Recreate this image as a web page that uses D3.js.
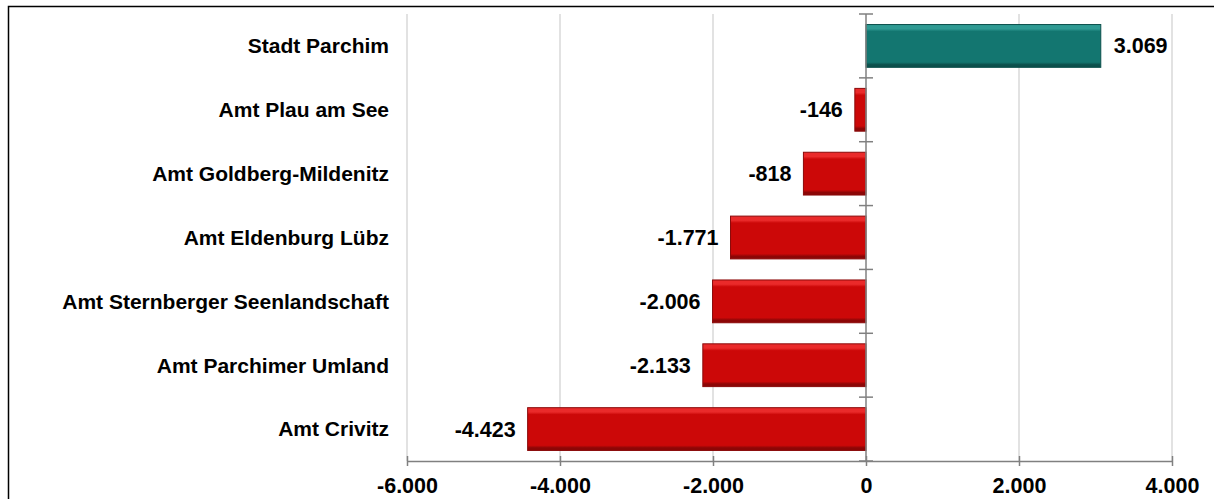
<!DOCTYPE html>
<html>
<head>
<meta charset="utf-8">
<script src="https://cdn.jsdelivr.net/npm/d3@7"></script>
<style>
  body { margin: 0; background: #fff; }
  text { font-family: "Liberation Sans", Arial, sans-serif; font-weight: bold; fill: #000; }
</style>
</head>
<body>
<svg id="chart" width="1214" height="499"></svg>
<script>
const categories = [
  'Stadt Parchim',
  'Amt Plau am See',
  'Amt Goldberg-Mildenitz',
  'Amt Eldenburg Lübz',
  'Amt Sternberger Seenlandschaft',
  'Amt Parchimer Umland',
  'Amt Crivitz'
];
const values = [3069, -146, -818, -1771, -2006, -2133, -4423];
const xTicks = [-6000, -4000, -2000, 0, 2000, 4000];

const fmt = v => d3.format(',')(v).replace(/,/g, '.').replace('−', '-');

const svg = d3.select('#chart');

// outer frame
svg.append('rect')
  .attr('x', 8.5).attr('y', 6.5)
  .attr('width', 1214).attr('height', 499)
  .attr('fill', 'none').attr('stroke', '#000').attr('stroke-width', 1.5);

const x = d3.scaleLinear().domain([-6000, 4000]).range([407, 1172]);
const y = d3.scaleBand().domain(categories).range([14, 461]).paddingInner(0.33).paddingOuter(0.165);

const defs = svg.append('defs');
function gradient(id, light, mid, dark) {
  const g = defs.append('linearGradient').attr('id', id)
    .attr('x1', 0).attr('y1', 0).attr('x2', 0).attr('y2', 1);
  g.append('stop').attr('offset', '0%').attr('stop-color', light);
  g.append('stop').attr('offset', '10%').attr('stop-color', light);
  g.append('stop').attr('offset', '16%').attr('stop-color', mid);
  g.append('stop').attr('offset', '88%').attr('stop-color', mid);
  g.append('stop').attr('offset', '94%').attr('stop-color', dark);
  g.append('stop').attr('offset', '100%').attr('stop-color', dark);
}
gradient('pos', '#2f9a93', '#137670', '#0c504c');
gradient('neg', '#ea2a2a', '#cc0808', '#8c0606');

// gridlines
svg.append('g')
  .selectAll('line')
  .data(xTicks.filter(d => d != 0))
  .enter().append('line')
    .attr('x1', d => x(d)).attr('x2', d => x(d))
    .attr('y1', 14).attr('y2', 461)
    .attr('stroke', '#d9d9d9').attr('stroke-width', 1.5);

// bars
svg.append('g')
  .selectAll('rect')
  .data(values)
  .enter().append('rect')
    .attr('x', d => x(Math.min(0, d)))
    .attr('y', (d, i) => y(categories[i]))
    .attr('width', d => Math.abs(x(d) - x(0)))
    .attr('height', y.bandwidth())
    .attr('fill', d => d >= 0 ? 'url(#pos)' : 'url(#neg)')
    .attr('stroke', d => d >= 0 ? '#0b4f4b' : '#8a0a0a')
    .attr('stroke-width', 1);

// zero axis with category ticks
const zeroAxis = svg.append('g');
zeroAxis.append('line')
  .attr('x1', x(0)).attr('x2', x(0)).attr('y1', 14).attr('y2', 461)
  .attr('stroke', '#808080').attr('stroke-width', 1.5);
zeroAxis.selectAll('.ctick')
  .data(d3.range(categories.length + 1))
  .enter().append('line')
    .attr('class', 'ctick')
    .attr('x1', x(0) - 7).attr('x2', x(0) + 7)
    .attr('y1', i => 14 + i * y.step()).attr('y2', i => 14 + i * y.step())
    .attr('stroke', '#808080').attr('stroke-width', 1.5);

// bottom axis
const xAxis = d3.axisBottom(x).tickValues(xTicks).tickFormat(fmt).tickSize(6).tickSizeOuter(0);
const ax = svg.append('g').attr('transform', 'translate(0,461)').call(xAxis);
ax.select('.domain').attr('stroke', '#808080').attr('stroke-width', 1.5);
ax.selectAll('.tick line').attr('stroke', '#808080').attr('stroke-width', 1.5)
  .attr('y1', -5).attr('y2', 5);
ax.selectAll('.tick text').attr('dy', null).attr('y', 32)
  .style('font-size', '21.5px').style('font-family', '"Liberation Sans", Arial, sans-serif')
  .style('font-weight', 'bold').attr('fill', '#000');

// category labels
svg.append('g')
  .selectAll('text')
  .data(categories)
  .enter().append('text')
    .attr('x', 389)
    .attr('y', d => y(d) + y.bandwidth() / 2)
    .attr('dy', '0.35em')
    .attr('text-anchor', 'end')
    .style('font-size', '21px')
    .text(d => d);

// value labels
svg.append('g')
  .selectAll('text')
  .data(values)
  .enter().append('text')
    .attr('x', d => d >= 0 ? x(d) + 13 : x(d) - 12)
    .attr('y', (d, i) => y(categories[i]) + y.bandwidth() / 2)
    .attr('dy', '0.35em')
    .attr('text-anchor', d => d >= 0 ? 'start' : 'end')
    .style('font-size', '21.5px')
    .text(d => fmt(d));
</script>
</body>
</html>
